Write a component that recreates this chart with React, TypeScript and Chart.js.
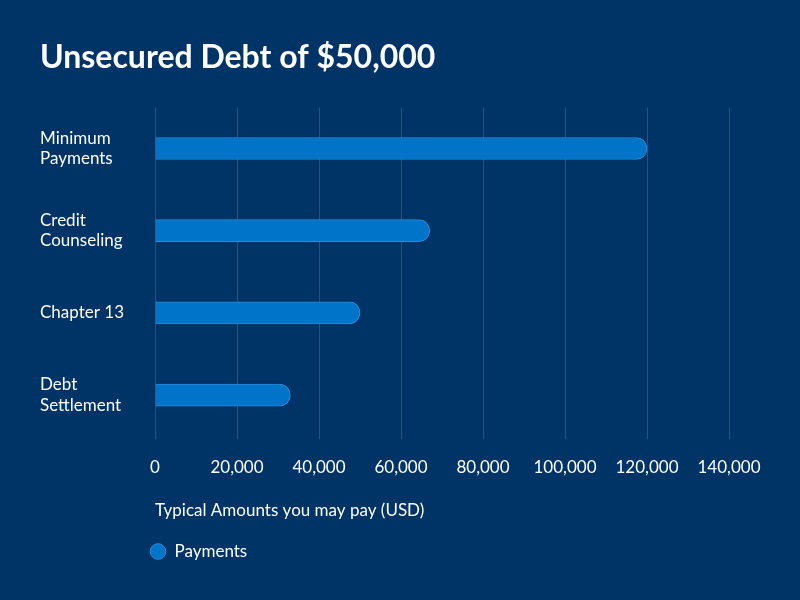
import React, { useEffect, useRef } from "react";
import { Chart, registerables } from "chart.js";

Chart.register(...registerables);

const categories: string[][] = [
  ["Minimum", "Payments"],
  ["Credit", "Counseling"],
  ["Chapter 13"],
  ["Debt", "Settlement"],
];
const payments: number[] = [120000, 67000, 50000, 33000];
const xMin = 0;
const xMax = 140000;
const xStep = 20000;
const titleText = "Unsecured Debt of $50,000";
const xAxisTitle = "Typical Amounts you may pay (USD)";
const seriesName = "Payments";

const BG = "#003366";
const BAR = "#0074c9";
const BAR_BORDER = "#2b8ad6";
const FONT = "Lato, 'Noto Sans', sans-serif";

const legendShift = {
  id: "legendShift",
  afterLayout(chart: any) {
    const lg = chart.legend;
    if (lg) {
      const dx = chart.chartArea.left - 5 - 10 - lg.left;
      lg.left += dx;
      lg.right += dx;
    }
  },
};

export default function App() {
  const ref = useRef<HTMLCanvasElement | null>(null);
  useEffect(() => {
    document.body.style.margin = "0";
    document.body.style.background = BG;
    const ctx = ref.current!;
    const chart = new Chart(ctx, {
      type: "bar",
      data: {
        labels: categories,
        datasets: [
          {
            label: seriesName,
            data: payments,
            backgroundColor: BAR,
            borderColor: BAR_BORDER,
            borderWidth: 1,
            borderSkipped: "start",
            borderRadius: { topRight: 11, bottomRight: 11, topLeft: 0, bottomLeft: 0 },
            barThickness: 22,
          },
        ],
      },
      options: {
        indexAxis: "y",
        animation: false,
        responsive: false,
        maintainAspectRatio: false,
        layout: { padding: { left: 40, right: 71, top: 0, bottom: 30 } },
        scales: {
          x: {
            min: xMin,
            max: xMax,
            ticks: {
              stepSize: xStep,
              color: "#ffffff",
              font: { family: FONT, size: 17 },
              padding: 18,
              callback: (v: any) => Number(v).toLocaleString("en-US"),
            },
            grid: {
              color: "rgba(255,255,255,0.16)",
              lineWidth: 1,
              drawTicks: true,
              tickLength: 3,
            },
            border: { display: false },
            title: {
              display: true,
              text: xAxisTitle,
              align: "start",
              color: "#ffffff",
              font: { family: FONT, size: 17 },
              padding: { top: 5, bottom: 12 },
            },
          },
          y: {
            ticks: {
              color: "#ffffff",
              font: { family: FONT, size: 17, lineHeight: 1.2 },
              crossAlign: "far",
              padding: 10,
            },
            grid: { display: false },
            border: { display: false },
            afterFit: (scale: any) => {
              scale.width = 115;
            },
          },
        },
        plugins: {
          title: {
            display: true,
            text: titleText,
            align: "start",
            color: "#ffffff",
            font: { family: FONT, size: 32, weight: "bold" },
            padding: { top: 38, bottom: 31 },
          },
          legend: {
            display: true,
            position: "bottom",
            align: "start",
            labels: {
              color: "#ffffff",
              font: { family: FONT, size: 17 },
              usePointStyle: true,
              pointStyle: "circle",
              boxWidth: 16,
              boxHeight: 11,
              padding: 10,
            },
          },
          tooltip: { enabled: false },
        },
      },
      plugins: [legendShift],
    } as any);
    return () => chart.destroy();
  }, []);
  return (
    <div style={{ position: "absolute", left: 0, top: 0, width: 800, height: 600, background: BG }}>
      <canvas ref={ref} width={800} height={600} style={{ display: "block", width: 800, height: 600 }} />
    </div>
  );
}
